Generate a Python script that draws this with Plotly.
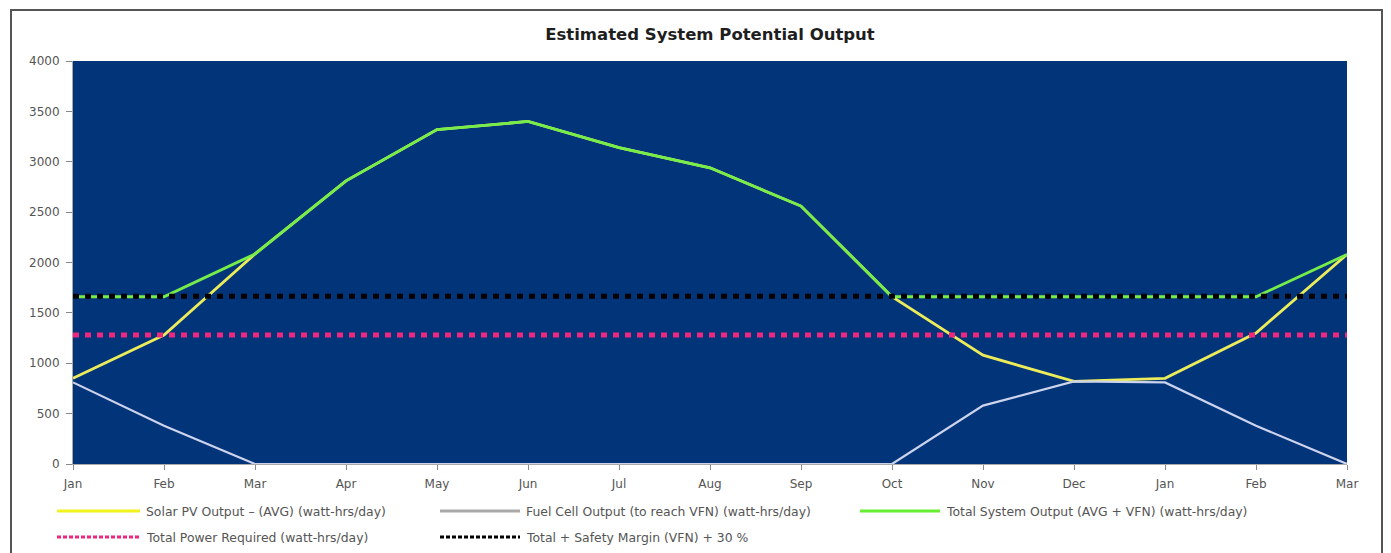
import plotly.graph_objects as go

# ---------------- data ----------------
months = ["Jan", "Feb", "Mar", "Apr", "May", "Jun", "Jul", "Aug", "Sep",
          "Oct", "Nov", "Dec", "Jan", "Feb", "Mar"]
x_idx = list(range(len(months)))

solar_pv = [850, 1280, 2085, 2810, 3320, 3400, 3140, 2940, 2560,
            1660, 1080, 820, 850, 1300, 2080]
fuel_cell = [810, 380, 0, 0, 0, 0, 0, 0, 0,
             0, 580, 820, 810, 380, 0]
total_system = [1660, 1660, 2085, 2810, 3320, 3400, 3140, 2940, 2560,
                1660, 1660, 1660, 1660, 1660, 2080]
power_required = [1280, 1280, 1280, 1280, 1280, 1280, 1280, 1280, 1280,
                  1280, 1280, 1280, 1280, 1280, 1280]
safety_margin = [1664, 1664, 1664, 1664, 1664, 1664, 1664, 1664, 1664,
                 1664, 1664, 1664, 1664, 1664, 1664]

y_ticks = [0, 500, 1000, 1500, 2000, 2500, 3000, 3500, 4000]

names = [
    "Solar PV Output \u2013 (AVG) (watt-hrs/day)",
    "Fuel Cell Output (to reach VFN) (watt-hrs/day)",
    "Total System Output (AVG + VFN) (watt-hrs/day)",
    "Total Power Required (watt-hrs/day)",
    "Total + Safety Margin (VFN) + 30 %",
]

# ---------------- styles ----------------
plot_colors = ["#ecec5a", "#cdd3ec", "#76ee4a", "#f0277f", "#000000"]
legend_colors = ["#f2f21e", "#a9a9a9", "#66ee33", "#f0277f", "#000000"]
widths = [2.8, 2.2, 2.8, 5, 5]
dashes = ["solid", "solid", "solid", "6px,6px", "6px,6px"]
series = [solar_pv, fuel_cell, total_system, power_required, safety_margin]

FONT = "DejaVu Sans, Liberation Sans, Arial, sans-serif"
OFF = 8                       # page body margin offset
W, H = 1391 - OFF, 553 - OFF
# target screen pixels of the plot area
SL, SR, ST, SB = 73, 1347, 61, 464
L, R, T, B = SL - OFF, SR - OFF, ST - OFF, SB - OFF
PW, PH = R - L, B - T


def px(xs):
    return (xs - SL) / PW


def py(ys):
    return (SB - ys) / PH


fig = go.Figure()
for s, n, c, w, d in zip(series, names, plot_colors, widths, dashes):
    fig.add_trace(go.Scatter(
        x=x_idx, y=s, name=n, mode="lines",
        line=dict(color=c, width=w, dash=d),
        showlegend=False, hoverinfo="x+y+name",
    ))

shapes = []
annotations = []

# outer frame
shapes.append(dict(type="rect", xref="paper", yref="paper",
                   x0=px(11), x1=px(1382), y0=py(10), y1=py(580),
                   line=dict(color="#555555", width=2), fillcolor="rgba(0,0,0,0)",
                   layer="below"))

# custom legend (long line samples like the original)
legend_pos = [(57, 511), (440, 511), (860, 511), (57, 537), (440, 537)]
legend_len = [83, 80, 80, 83, 80]
for (lx, ly), ln, n, c, d in zip(legend_pos, legend_len, names, legend_colors, dashes):
    shapes.append(dict(type="line", xref="paper", yref="paper",
                       x0=px(lx), x1=px(lx + ln), y0=py(ly), y1=py(ly),
                       line=dict(color=c, width=3,
                                 dash="solid" if d == "solid" else "4px,2px")))
    annotations.append(dict(xref="paper", yref="paper", x=px(lx + ln + 4), y=py(ly),
                            text=n, showarrow=False, xanchor="left", yanchor="middle",
                            font=dict(family=FONT, size=12.4, color="#555555")))

fig.update_layout(
    width=W, height=H,
    margin=dict(l=L, r=W - R, t=T, b=H - B, pad=0),
    paper_bgcolor="white",
    plot_bgcolor="#02347a",
    title=dict(text="<b>Estimated System Potential Output</b>",
               x=((SL + SR) / 2 - OFF) / W, xanchor="center",
               y=1 - (34 - OFF) / H, yanchor="middle",
               font=dict(family=FONT, size=16.5, color="#1e1e1e")),
    shapes=shapes,
    annotations=annotations,
    showlegend=False,
    font=dict(family=FONT, size=12, color="#555555"),
)

fig.update_xaxes(
    range=[0, len(months) - 1], tickvals=x_idx, ticktext=months,
    showgrid=False, zeroline=False,
    ticks="outside", ticklen=5, tickcolor="#888888", tickwidth=1,
    ticklabelstandoff=4,
    showline=True, linecolor="#aaaaaa", linewidth=1,
    tickfont=dict(family=FONT, size=12, color="#555555"),
)
fig.update_yaxes(
    range=[0, 4000], tickvals=y_ticks,
    showgrid=False, zeroline=False,
    ticks="outside", ticklen=6, tickcolor="#888888", tickwidth=1,
    ticklabelstandoff=4,
    showline=True, linecolor="#aaaaaa", linewidth=1,
    tickfont=dict(family=FONT, size=12, color="#555555"),
)

fig.write_html("out.html")
